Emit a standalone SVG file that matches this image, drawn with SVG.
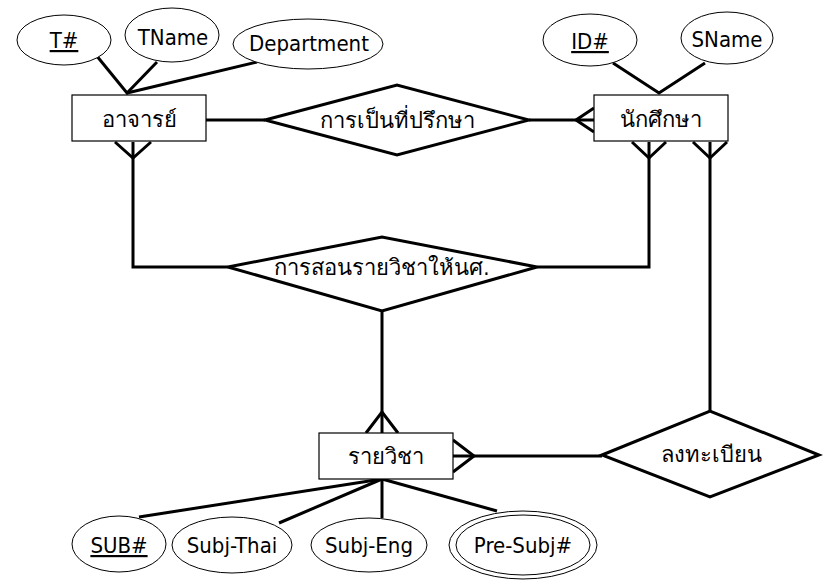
<svg xmlns="http://www.w3.org/2000/svg" width="823" height="581" viewBox="0 0 823 581">
<style>
  .bg{fill:#fff}
  .ent{fill:#fff;stroke:#000;stroke-width:1.2}
  .rel{fill:#fff;stroke:#000;stroke-width:3;stroke-linejoin:miter}
  .att{fill:#fff;stroke:#000;stroke-width:1}
  .ln{fill:none;stroke:#000;stroke-width:3;stroke-linejoin:miter}
  text{font-family:"DejaVu Sans Condensed","DejaVu Sans","Noto Sans",sans-serif;font-stretch:condensed;font-size:22px;fill:#000;text-anchor:middle}
  .th{font-size:22px}
  .u{text-decoration:underline}
</style>
<rect class="bg" x="0" y="0" width="823" height="581"/>
<g id="connectors">
  <polyline class="ln" points="96,55 127,93 157,62"/>
  <line class="ln" x1="127" y1="93" x2="257" y2="62"/>
  <polyline class="ln" points="613,63 659,93 705,63"/>
  <line class="ln" x1="382" y1="479" x2="139" y2="517"/>
  <line class="ln" x1="382" y1="479" x2="279" y2="523"/>
  <line class="ln" x1="382" y1="479" x2="382" y2="518"/>
  <line class="ln" x1="382" y1="479" x2="497" y2="511"/>
  <line class="ln" x1="206" y1="120" x2="265" y2="120"/>
  <line class="ln" x1="529" y1="120" x2="594" y2="120"/>
  <polyline class="ln" points="594,108 576,120 594,132"/>
  <polyline class="ln" points="133,142 133,267 228,267"/>
  <polyline class="ln" points="115,142 133,158 151,142"/>
  <polyline class="ln" points="649,142 649,267 537,267"/>
  <polyline class="ln" points="632,142 649,158 666,142"/>
  <line class="ln" x1="382" y1="311" x2="382" y2="433"/>
  <polyline class="ln" points="366,433 382,412 398,433"/>
  <line class="ln" x1="710" y1="142" x2="710" y2="411"/>
  <polyline class="ln" points="693,142 710,158 727,142"/>
  <line class="ln" x1="453" y1="456" x2="602" y2="456"/>
  <polyline class="ln" points="453,440 474,456 453,472"/>
</g>
<g id="T_no"><ellipse class="att" cx="64" cy="40" rx="47" ry="25"/><text x="64" y="48" class="u">T#</text></g>
<g id="TName"><ellipse class="att" cx="172" cy="35" rx="47" ry="27"/><text x="173" y="45">TName</text></g>
<g id="Department"><ellipse class="att" cx="308" cy="44" rx="75" ry="25"/><text x="309" y="51">Department</text></g>
<g id="ID_no"><ellipse class="att" cx="590" cy="40" rx="47" ry="26"/><text x="590" y="49" class="u">ID#</text></g>
<g id="SName"><ellipse class="att" cx="727" cy="38" rx="46" ry="26"/><text x="727" y="47">SName</text></g>
<g id="teacher"><rect class="ent" x="72" y="95" width="134" height="46"/><text class="th" x="139" y="127">อาจารย์</text></g>
<g id="student"><rect class="ent" x="594" y="95" width="134" height="46"/><text class="th" x="661" y="127">นักศึกษา</text></g>
<g id="advisor"><polygon class="rel" points="265,120 397,85 529,120 397,155"/><text class="th" x="397" y="128">การเป็นที่ปรึกษา</text></g>
<g id="teach"><polygon class="rel" points="228,267 382,237 537,267 382,311"/><text class="th" x="382" y="275">การสอนรายวิชาให้นศ.</text></g>
<g id="subject"><rect class="ent" x="319" y="433" width="134" height="46"/><text class="th" x="386" y="464">รายวิชา</text></g>
<g id="register"><polygon class="rel" points="602,455 710,411 819,455 710,497"/><text class="th" x="711" y="462">ลงทะเบียน</text></g>
<g id="SUB_no"><ellipse class="att" cx="119" cy="544" rx="47" ry="28"/><text x="119" y="553" class="u">SUB#</text></g>
<g id="SubjThai"><ellipse class="att" cx="232" cy="545" rx="60" ry="28"/><text x="232" y="553">Subj-Thai</text></g>
<g id="SubjEng"><ellipse class="att" cx="369" cy="545" rx="58" ry="27"/><text x="369" y="553">Subj-Eng</text></g>
<g id="PreSubj"><ellipse class="att" cx="523" cy="545" rx="74" ry="34"/><ellipse class="att" cx="523" cy="545" rx="67" ry="30"/><text x="523" y="553">Pre-Subj#</text></g>
</svg>
